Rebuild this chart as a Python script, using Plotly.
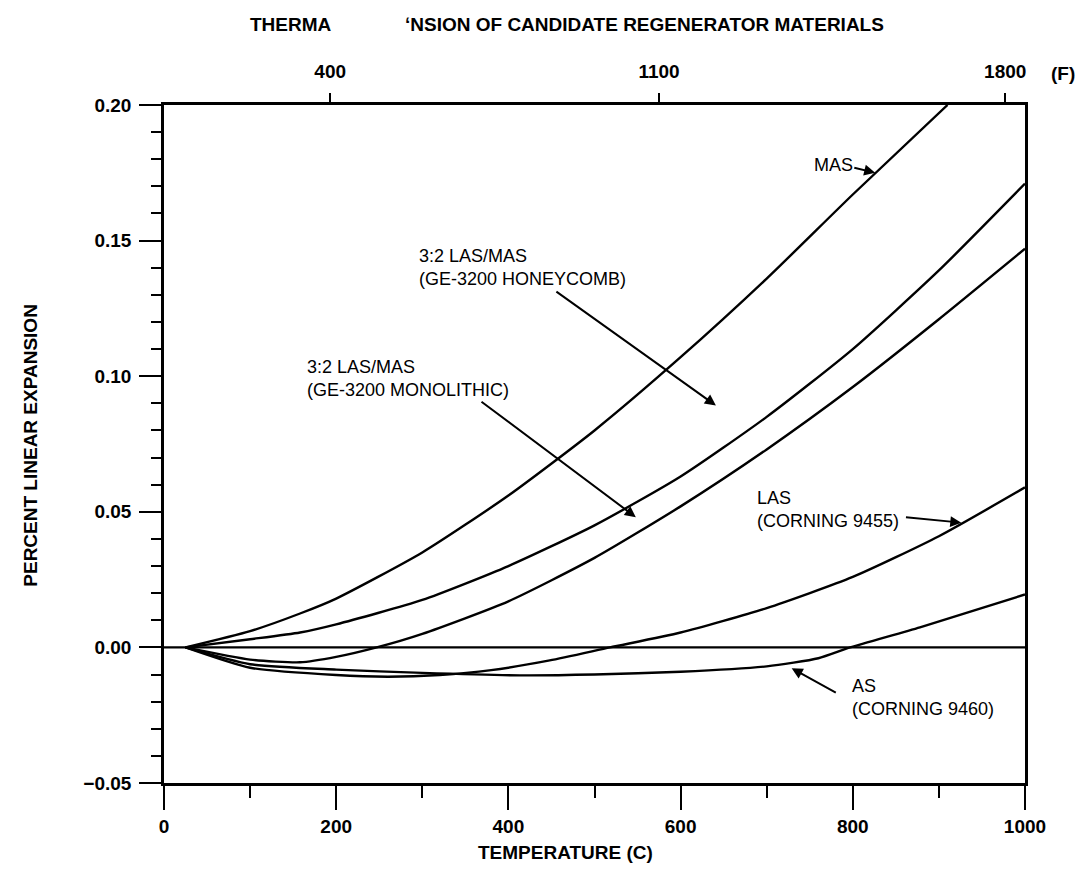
import plotly.graph_objects as go

# ---------------- data (temperature in C, percent linear expansion) -------------
mas_t = [25, 100, 158, 200, 300, 400, 500, 600, 700, 800, 910]
mas_v = [0.0, 0.006, 0.0125, 0.018, 0.035, 0.056, 0.080, 0.107, 0.136, 0.167, 0.200]

honey_t = [25, 100, 158, 200, 300, 400, 500, 600, 700, 800, 900, 1000]
honey_v = [0.0, 0.003, 0.0055, 0.0085, 0.0175, 0.030, 0.045, 0.063, 0.085, 0.110, 0.139, 0.171]

mono_t = [25, 100, 158, 200, 247, 300, 400, 500, 600, 700, 800, 900, 1000]
mono_v = [0.0, -0.0045, -0.0055, -0.0035, 0.0, 0.005, 0.017, 0.033, 0.052, 0.073, 0.096, 0.121, 0.147]

las_t = [25, 100, 200, 260, 320, 380, 448, 518, 600, 700, 800, 900, 1000]
las_v = [0.0, -0.0075, -0.0102, -0.0108, -0.0102, -0.0084, -0.0048, 0.0, 0.0055, 0.0145, 0.026, 0.041, 0.059]

as_t = [25, 100, 200, 300, 413, 500, 600, 700, 760, 797, 878, 1000]
as_v = [0.0, -0.0062, -0.0082, -0.0094, -0.0103, -0.0100, -0.0090, -0.0070, -0.0040, 0.0, 0.0074, 0.0195]

zero_t = [0, 1000]
zero_v = [0.0, 0.0]

x_ticks = [0, 200, 400, 600, 800, 1000]
y_ticks = [-0.05, 0.0, 0.05, 0.10, 0.15, 0.20]
y_tick_text = ["\u22120.05", "0.00", "0.05", "0.10", "0.15", "0.20"]
top_tick_pos = [193, 575, 977]
top_tick_text = ["400", "1100", "1800"]

# ---------------- figure ------------------------------------------------------
LINE = dict(color="black", width=2.4, shape="spline", smoothing=0.6)
fig = go.Figure()
for t, v in [(mas_t, mas_v), (honey_t, honey_v), (mono_t, mono_v),
             (las_t, las_v), (as_t, as_v)]:
    fig.add_trace(go.Scatter(x=t, y=v, mode="lines", line=LINE,
                             showlegend=False, hoverinfo="skip"))
fig.add_trace(go.Scatter(x=zero_t, y=zero_v, mode="lines",
                         line=dict(color="black", width=2.2), showlegend=False,
                         hoverinfo="skip"))
fig.add_trace(go.Scatter(x=[0, 1000], y=[None, None], xaxis="x2",
                         showlegend=False, hoverinfo="skip"))

BOLD = dict(family="Liberation Sans", size=19, color="black", weight="bold")
TXT = dict(family="Liberation Sans", size=18, color="black")

fig.update_layout(
    width=1079, height=884,
    margin=dict(l=164, r=54, t=105, b=101),
    paper_bgcolor="white", plot_bgcolor="white",
    xaxis=dict(range=[0, 1000], tickvals=x_ticks, ticks="outside", ticklen=24,
               tickwidth=2.2, tickcolor="black", showline=True, linecolor="black",
               linewidth=2.6, showgrid=False, zeroline=False, tickfont=BOLD,
               ticklabelstandoff=0,
               minor=dict(dtick=100, ticks="outside", ticklen=12, tickwidth=2,
                          tickcolor="black", showgrid=False)),
    xaxis2=dict(range=[0, 1000], overlaying="x", side="top", tickvals=top_tick_pos,
                ticktext=top_tick_text, ticks="outside", ticklen=9, tickwidth=2,
                tickcolor="black", showline=True, linecolor="black", linewidth=2.6,
                showgrid=False, zeroline=False, tickfont=BOLD,
                ticklabelstandoff=8),
    yaxis=dict(range=[-0.05, 0.20], tickvals=y_ticks, ticktext=y_tick_text,
               ticks="outside", ticklen=22, tickwidth=2.2, tickcolor="black",
               showline=True, linecolor="black", linewidth=2.6, mirror=True,
               showgrid=False, zeroline=False, tickfont=BOLD,
               ticklabelstandoff=4,
               minor=dict(dtick=0.01, ticks="outside", ticklen=10, tickwidth=2,
                          tickcolor="black", showgrid=False)),
)

ann = []
# title (damaged in original)
ann.append(dict(text="THERMA", xref="paper", yref="paper", x=0.0976, y=1.118,
                xanchor="left", yanchor="middle", showarrow=False, font=BOLD))
ann.append(dict(text="\u02bbNSION OF CANDIDATE REGENERATOR MATERIALS", xref="paper",
                yref="paper", x=0.2776, y=1.118, xanchor="left", yanchor="middle",
                showarrow=False, font=BOLD))
ann.append(dict(text="(F)", xref="paper", yref="paper", x=1.044, y=1.047,
                xanchor="center", yanchor="middle", showarrow=False, font=BOLD))
ann.append(dict(text="PERCENT LINEAR EXPANSION", xref="paper", yref="paper",
                x=-0.156, y=0.4985, textangle=-90, xanchor="center",
                yanchor="middle", showarrow=False, font=BOLD))
ann.append(dict(text="TEMPERATURE (C)", xref="paper", yref="paper", x=0.466,
                y=-0.103, xanchor="center", yanchor="middle", showarrow=False,
                font=BOLD))

# curve labels (text, left x in C, centre y)
labels = [
    ("MAS", 753, 0.178),
    ("3:2 LAS/MAS<br>(GE-3200 HONEYCOMB)", 294, 0.140),
    ("3:2 LAS/MAS<br>(GE-3200 MONOLITHIC)", 164, 0.099),
    ("LAS<br>(CORNING 9455)", 686, 0.051),
    ("AS<br>(CORNING 9460)", 797, -0.0185),
]
for txt, x, y in labels:
    ann.append(dict(text=txt, x=x, y=y, xref="x", yref="y", xanchor="left",
                    yanchor="middle", align="left", showarrow=False, font=TXT))

# arrows (tail x, tail y, head x, head y)
arrows = [
    (800, 0.177, 826, 0.175),
    (454, 0.1316, 641, 0.0892),
    (367, 0.091, 548, 0.048),
    (860, 0.048, 926, 0.046),
    (782, -0.017, 729, -0.0077),
]
for ax_, ay_, x, y in arrows:
    ann.append(dict(text="", x=x, y=y, ax=ax_, ay=ay_, xref="x", yref="y",
                    axref="x", ayref="y", showarrow=True, arrowhead=2,
                    arrowsize=1.1, arrowwidth=2, arrowcolor="black"))

fig.update_layout(annotations=ann)
fig.write_html("out.html")
